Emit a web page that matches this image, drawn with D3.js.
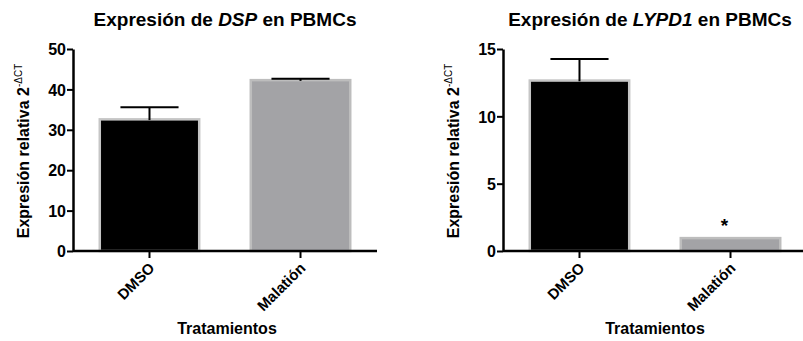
<!DOCTYPE html>
<html><head><meta charset="utf-8">
<script src="https://cdn.jsdelivr.net/npm/d3@7"></script>
<style>body{margin:0;background:#fff}svg{display:block}text{font-family:"Liberation Sans",Arial,sans-serif;font-weight:bold}</style>
</head><body>
<svg id="c" width="803" height="341"></svg>
<script>
const categories = ["DMSO", "Malatión"];
const dspMeans = [32.9, 42.6];
const dspErrors = [2.7, 0.05];
const dspTicks = [0, 10, 20, 30, 40, 50];
const lypd1Means = [12.75, 1.05];
const lypd1Errors = [1.5, null];
const lypd1Ticks = [0, 5, 10, 15];
const lypd1Stars = ["", "*"];
const fills = ["#000000", "#a3a3a6"];
const strokes = ["#c6c6c6", "#bdbdbd"];

const svg = d3.select("#c");
const FONT = '"Liberation Sans",Arial,sans-serif';

function panel(o) {
  const g = svg.append("g");
  const y = d3.scaleLinear().domain([0, o.max]).range([251, 49]);
  const x = d3.scaleBand().domain(categories).range([o.x0, o.x1]).paddingInner(0.325).paddingOuter(0.169);
  // bars
  g.selectAll("rect.bar").data(o.means).join("rect")
    .attr("x", (d, i) => x(categories[i]) + 1.25)
    .attr("width", x.bandwidth() - 2.5)
    .attr("y", d => y(d) + 1.25)
    .attr("height", d => y(0) - y(d) - 1.25)
    .attr("fill", (d, i) => fills[i])
    .attr("stroke", (d, i) => strokes[i])
    .attr("stroke-width", 2.5);
  // error bars
  o.means.forEach((m, i) => {
    const cx = x(categories[i]) + x.bandwidth() / 2;
    const capW = x.bandwidth() * 0.57;
    if (o.errors[i] != null) {
      const top = y(m + o.errors[i]);
      g.append("line").attr("x1", cx).attr("x2", cx).attr("y1", y(m) + 2).attr("y2", top)
        .attr("stroke", "#000").attr("stroke-width", 2);
      g.append("line").attr("x1", cx - capW / 2).attr("x2", cx + capW / 2).attr("y1", top).attr("y2", top)
        .attr("stroke", "#000").attr("stroke-width", 2);
    }
    if (o.stars && o.stars[i]) {
      g.append("text").attr("x", cx - 6).attr("y", y(m) - 5).attr("text-anchor", "middle")
        .attr("font-size", 19).text(o.stars[i]);
    }
  });
  // y axis
  const ya = g.append("g").attr("transform", `translate(${o.x0},0)`)
    .call(d3.axisLeft(y).tickValues(o.ticks).tickSize(6).tickPadding(1).tickSizeOuter(0));
  ya.select(".domain").attr("stroke-width", 2.5);
  ya.selectAll(".tick line").attr("stroke-width", 2);
  ya.selectAll(".tick text").attr("font-size", 16).attr("fill", "#000").attr("dy", "0.36em")
    .style("font-family", FONT).style("font-weight", "bold");
  // x axis
  const xa = g.append("g").attr("transform", `translate(0,251)`)
    .call(d3.axisBottom(x).tickSize(7).tickSizeOuter(0));
  xa.select(".domain").attr("stroke-width", 2.5).attr("d", `M${o.x0},0H${o.xEnd}`);
  xa.selectAll(".tick line").attr("stroke-width", 2);
  xa.selectAll(".tick text").attr("font-size", 15).attr("fill", "#000")
    .style("font-family", FONT).style("font-weight", "bold")
    .attr("text-anchor", "end").attr("dy", 0).attr("y", 0)
    .attr("transform", "translate(6,18) rotate(-45)");
  // title
  const t = g.append("text").attr("x", o.titleX).attr("y", 26).attr("text-anchor", "middle").attr("font-size", 19);
  t.append("tspan").text("Expresión de ");
  t.append("tspan").attr("font-style", "italic").text(o.gene);
  t.append("tspan").text(" en PBMCs");
  // y label
  const yl = g.append("text").attr("transform", `translate(${o.ylabX},151) rotate(-90)`)
    .attr("text-anchor", "middle").attr("font-size", 16);
  yl.append("tspan").text("Expresión relativa 2");
  yl.append("tspan").attr("font-size", 10).attr("font-weight", "normal").attr("dy", -7).text("-ΔCT");
  // x label
  g.append("text").attr("x", o.xlabX).attr("y", 334).attr("text-anchor", "middle").attr("font-size", 16).text("Tratamientos");
}

panel({x0: 73, x1: 377, xEnd: 377, max: 50, means: dspMeans, errors: dspErrors, ticks: dspTicks,
  gene: "DSP", titleX: 225, ylabX: 29, xlabX: 227});
panel({x0: 503, x1: 807, xEnd: 803, max: 15, means: lypd1Means, errors: lypd1Errors, ticks: lypd1Ticks,
  stars: lypd1Stars, gene: "LYPD1", titleX: 650, ylabX: 459, xlabX: 655});
</script>
</body></html>
